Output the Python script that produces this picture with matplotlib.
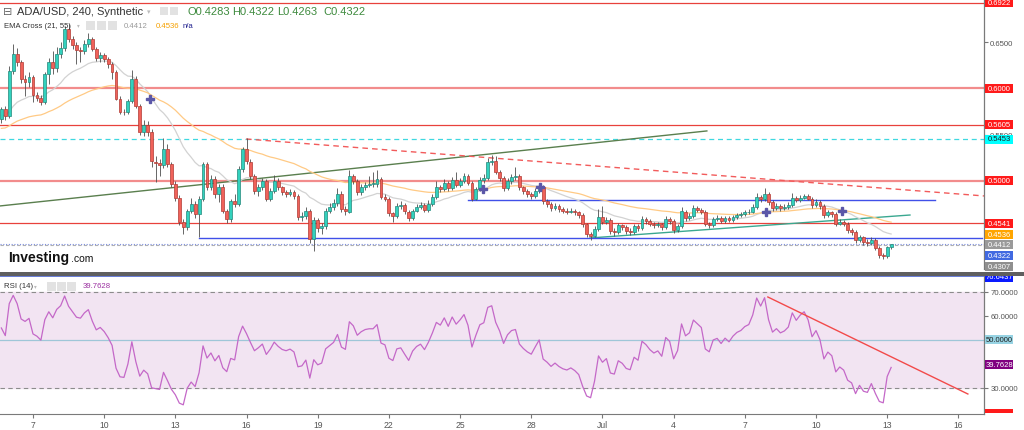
import datetime
import numpy as np
import pandas as pd
import matplotlib
matplotlib.use("Agg")
import matplotlib.pyplot as plt
import matplotlib.dates as mdates
from matplotlib.patches import Rectangle
from matplotlib.transforms import IdentityTransform

plt.rcParams['font.family'] = ['Liberation Sans', 'DejaVu Sans']

# ---- data: ADA/USD 240 min candles, 2022-06-05 16:00 .. 2022-07-13 04:00
first_time = '2022-06-05 16:00'
first_open = 0.567
closes = [
    .578, .570,                              # Jun 5
    .619, .637, .628, .610, .607, .612,      # Jun 6
    .593, .590, .585, .615, .629, .622,      # Jun 7
    .637, .644, .664, .653, .647, .641,      # Jun 8
    .640, .648, .653, .642, .633, .636,      # Jun 9
    .632, .626, .618, .589, .575, .574,      # Jun 10
    .586, .610, .581, .553, .560, .553,      # Jun 11
    .521, .519, .517, .535, .518, .497,      # Jun 12
    .482, .456, .450, .468, .475, .464,      # Jun 13
    .480, .518, .494, .502, .486, .494,      # Jun 14
    .468, .459, .478, .475, .513, .534,      # Jun 15
    .521, .505, .489, .494, .500, .481,      # Jun 16
    .489, .500, .493, .488, .486, .488,      # Jun 17
    .484, .461, .462, .468, .437, .458,      # Jun 18
    .449, .451, .468, .472, .476, .486,      # Jun 19
    .470, .467, .505, .500, .488, .493,      # Jun 20
    .496, .497, .497, .502, .483, .481,      # Jun 21
    .465, .462, .473, .474, .467, .460,      # Jun 22
    .468, .472, .474, .469, .475, .483,      # Jun 23
    .493, .491, .498, .492, .501, .496,      # Jun 24
    .500, .505, .498, .481, .491, .501,      # Jun 25
    .503, .520, .522, .510, .503, .492,      # Jun 26
    .500, .504, .505, .493, .489, .486,      # Jun 27
    .484, .489, .494, .478, .475, .471,      # Jun 28
    .473, .470, .468, .467, .468, .466,      # Jun 29
    .463, .453, .443, .441, .448, .461,      # Jun 30
    .456, .458, .446, .445, .452, .450,      # Jul 1
    .446, .445, .451, .449, .459, .457,      # Jul 2
    .454, .452, .453, .450, .459, .457,      # Jul 3
    .447, .451, .467, .460, .462, .471,      # Jul 4
    .469, .467, .454, .452, .459, .460,      # Jul 5
    .457, .460, .458, .461, .463, .464,      # Jul 6
    .466, .467, .472, .483, .480, .486,      # Jul 7
    .477, .471, .473, .471, .472, .474,      # Jul 8
    .482, .479, .482, .484, .481, .474,      # Jul 9
    .477, .473, .463, .466, .464, .454,      # Jul 10
    .456, .454, .447, .445, .436, .439,      # Jul 11
    .434, .433, .436, .428, .420, .4185,     # Jul 12
    .4283, .4322,                            # Jul 13
]
highs = [
    .580, .581,
    .624, .648, .644, .631, .614, .618,
    .614, .596, .593, .618, .633, .640,
    .645, .650, .667, .670, .657, .650,
    .645, .652, .660, .655, .645, .639,
    .638, .634, .628, .620, .592, .578,
    .588, .620, .613, .583, .566, .565,
    .556, .527, .524, .546, .540, .520,
    .500, .485, .459, .470, .482, .478,
    .484, .521, .520, .506, .505, .497,
    .497, .470, .481, .486, .516, .537,
    .546, .524, .508, .497, .503, .502,
    .492, .506, .503, .495, .490, .491,
    .490, .486, .466, .472, .470, .461,
    .460, .455, .471, .476, .480, .492,
    .489, .473, .512, .508, .502, .497,
    .499, .505, .510, .512, .504, .486,
    .483, .467, .476, .478, .476, .469,
    .470, .475, .477, .476, .479, .486,
    .500, .496, .502, .500, .504, .510,
    .503, .509, .507, .500, .494, .504,
    .507, .525, .528, .527, .512, .505,
    .503, .507, .515, .507, .495, .491,
    .488, .492, .498, .496, .480, .477,
    .476, .475, .472, .471, .471, .470,
    .468, .465, .455, .445, .451, .470,
    .473, .461, .460, .449, .455, .454,
    .452, .449, .454, .453, .462, .461,
    .459, .456, .456, .455, .462, .461,
    .459, .454, .472, .469, .465, .474,
    .473, .471, .469, .456, .461, .463,
    .462, .462, .462, .463, .465, .467,
    .469, .470, .475, .487, .485, .492,
    .488, .479, .476, .475, .475, .477,
    .487, .484, .485, .486, .486, .483,
    .480, .479, .475, .469, .468, .466,
    .459, .458, .456, .449, .447, .442,
    .441, .437, .439, .438, .430, .4225,
    .4300, .4322,
]
lows = [
    .563, .566,
    .568, .616, .624, .606, .592, .601,
    .585, .586, .582, .583, .605, .616,
    .618, .633, .640, .650, .643, .626,
    .628, .637, .645, .640, .630, .629,
    .628, .622, .610, .587, .572, .571,
    .572, .584, .579, .550, .549, .549,
    .515, .499, .505, .514, .515, .494,
    .478, .452, .443, .447, .465, .460,
    .439, .478, .490, .490, .482, .477,
    .465, .455, .456, .472, .473, .510,
    .518, .502, .486, .484, .490, .478,
    .478, .487, .490, .485, .483, .484,
    .481, .458, .457, .459, .433, .424,
    .445, .443, .448, .465, .469, .473,
    .467, .463, .465, .497, .485, .485,
    .490, .493, .493, .494, .480, .478,
    .462, .456, .460, .470, .464, .457,
    .458, .466, .470, .466, .467, .473,
    .481, .488, .489, .489, .490, .493,
    .494, .498, .496, .478, .479, .489,
    .498, .501, .517, .507, .500, .489,
    .490, .497, .501, .490, .486, .483,
    .481, .482, .487, .475, .472, .468,
    .469, .467, .465, .464, .465, .463,
    .460, .450, .440, .436, .439, .446,
    .453, .453, .443, .441, .443, .447,
    .443, .442, .443, .446, .447, .454,
    .451, .449, .450, .447, .448, .454,
    .444, .445, .449, .457, .458, .460,
    .466, .464, .451, .449, .450, .457,
    .455, .455, .456, .456, .459, .461,
    .462, .464, .465, .470, .477, .478,
    .474, .468, .469, .468, .469, .470,
    .472, .477, .477, .480, .479, .471,
    .472, .470, .460, .461, .461, .451,
    .452, .451, .444, .442, .433, .434,
    .431, .430, .431, .425, .417, .4155,
    .4170, .4263,
]
opens = [first_open] + closes[:-1]

# indicator seeds (values just before the first candle)
ema_periods = [21, 55]
ema_seeds = [0.570, 0.556]
rsi_period = 14
rsi_seed_gain, rsi_seed_loss = 0.0055, 0.0045

# chart levels / drawings (day of June 2022, price)
red_levels = [0.6922, 0.5605, 0.4541]
pink_levels = [0.6000, 0.5000]
cyan_level = 0.5453
price_line = 0.4322
prev_line = 0.4307
olive_trend = [(5.61, 0.4730), (35.40, 0.5540)]
teal_trend = [(30.47, 0.4384), (43.96, 0.4632)]
red_dash_trend = [(15.98, 0.5453), (47.08, 0.4838)]
blue_support = [(14.0, 0.4381), (47.0, 0.4381)]
blue_resist = [(25.33, 0.4794), (45.01, 0.4794)]
cross_days = [11.93, 25.96, 28.37, 37.89, 41.09]
cross_prices = [0.5885, 0.4913, 0.4935, 0.4665, 0.4676]
rsi_trend = [(37.97, 67.9), (46.40, 27.5)]
rsi_last = '39.7628'
ema_last = ['0.4412', '0.4536']
tick_days = [7, 10, 13, 16, 19, 22, 25, 28, 31, 34, 37, 40, 43, 46]
tick_labels = ['7', '10', '13', '16', '19', '22', '25', '28', 'Jul', '4', '7', '10', '13', '16']

W, H = 1024, 431
base = mdates.date2num(datetime.datetime(2022, 6, 1))
def d(day):
    return base + day - 1

times = pd.date_range(first_time, periods=len(closes), freq='4h')
x = mdates.date2num(times.to_pydatetime())
o = np.array(opens); c = np.array(closes)

def ema(vals, n, seed):
    a = 2.0 / (n + 1); e = seed; out = []
    for v in vals:
        e = e + a * (v - e)
        out.append(e)
    return np.array(out)

emas = [ema(closes, n, s) for n, s in zip(ema_periods, ema_seeds)]

g, l = rsi_seed_gain, rsi_seed_loss
rsi = [100 - 100 / (1 + g / l)]
for i in range(1, len(closes)):
    ch = closes[i] - closes[i - 1]
    g = (g * (rsi_period - 1) + max(ch, 0)) / rsi_period
    l = (l * (rsi_period - 1) + max(-ch, 0)) / rsi_period
    rsi.append(100 - 100 / (1 + g / l))

fig = plt.figure(figsize=(W / 100, H / 100), dpi=100)
ax = fig.add_axes([0, 1 - 270 / H, 984 / W, 270 / H])
rax = fig.add_axes([0, 1 - 415 / H, 984 / W, 138 / H])
xl = (d(5.61), d(47.08))
for a in (ax, rax):
    a.set_xlim(*xl)
    for s in a.spines.values():
        s.set_visible(False)
    a.spines['right'].set_visible(True)
    a.spines['right'].set_color('#7a7a7a')
    a.spines['right'].set_linewidth(0.9)
ax.set_ylim(0.4049, 0.6965)
rax.set_ylim(19.17, 76.64)

# ---- main panel
for lv in red_levels:
    ax.axhline(lv, color='#e8413c', lw=0.9, zorder=1)
for lv in pink_levels:
    ax.axhline(lv, color='#f28c8c', lw=1.6, zorder=1)
ax.axhline(cyan_level, color='#3fd8e0', lw=0.9, ls=(0, (4, 3)), zorder=1)
ax.axhline(prev_line, color='#b0b0b0', lw=0.8, ls=(0, (3, 2)), zorder=1)
ax.axhline(price_line, color='#7d8fe0', lw=0.8, ls=(0, (1, 1.5)), zorder=1)
for seg, col, ls in [(olive_trend, '#5a7f4e', '-'), (teal_trend, '#3aa890', '-'),
                     (red_dash_trend, '#f25b5b', (0, (4, 3))),
                     (blue_support, '#4050e8', '-'), (blue_resist, '#4050e8', '-')]:
    ax.plot([d(seg[0][0]), d(seg[1][0])], [seg[0][1], seg[1][1]], color=col, lw=1.0, ls=ls, zorder=2)

ax.plot(x, emas[0], color='#d2d2d2', lw=0.9, zorder=2)
ax.plot(x, emas[1], color='#ffca85', lw=0.9, zorder=2)

up = c >= o
ax.vlines(x, lows, highs, color='#4e4e4e', lw=0.6, zorder=3)
body = np.where(np.abs(c - o) < 0.0007, 0.0007, c - o)
ax.bar(x, body, bottom=o, width=0.12, zorder=4, linewidth=0.5,
       color=np.where(up, '#33d1bd', '#f0625a'),
       edgecolor=np.where(up, '#23877a', '#b03a32'))
ax.plot([d(v) for v in cross_days], cross_prices, ls='none', marker='P', ms=6,
        color='#5b57a8', mec='#5b57a8', zorder=5)

ax.set_xticks([])
ax.yaxis.tick_right()
ax.set_yticks([0.65, 0.55])
ax.set_yticklabels(['0.6500', '0.5500'])
ax.tick_params(axis='y', length=3, color='#777', labelsize=5.6, labelcolor='#555', pad=1.5)

# ---- RSI panel
rax.axhspan(30, 70, color='#f2e4f2', zorder=0)
for lv in (70, 30):
    rax.axhline(lv, color='#8c8c8c', lw=0.8, ls=(0, (4, 3)), zorder=1)
rax.axhline(50, color='#9fc6d8', lw=0.9, zorder=1)
rax.plot(x, rsi, color='#c468c8', lw=0.9, zorder=3)
rax.plot([d(rsi_trend[0][0]), d(rsi_trend[1][0])], [rsi_trend[0][1], rsi_trend[1][1]],
         color='#f24a4a', lw=1.0, zorder=3)
rax.spines['bottom'].set_visible(True)
rax.spines['bottom'].set_color('#7a7a7a')
rax.yaxis.tick_right()
rax.set_yticks([30, 60, 70])
rax.set_yticklabels(['30.0000', '60.0000', '70.0000'])
rax.tick_params(axis='y', length=3, color='#777', labelsize=5.6, labelcolor='#555', pad=1.5)
rax.set_xticks([d(v) for v in tick_days])
rax.set_xticklabels(tick_labels)
rax.tick_params(axis='x', length=3, color='#777', labelsize=6.2, labelcolor='#555', pad=1)

# ---- pixel helpers for tags and header
def px_rect(x0, y_top, w, h, color, z=5):
    fig.add_artist(Rectangle((x0, H - y_top - h), w, h, transform=IdentityTransform(),
                             facecolor=color, lw=0, zorder=z))

def px_text(x0, y, s, **kw):
    kw.setdefault('va', 'center')
    fig.text(x0 / W, 1 - y / H, s, **kw)

def tag(a, value, s, fc, tc, stack=0):
    yt = H - a.transData.transform((0, value))[1] + stack
    px_rect(985, yt - 4.5, 28, 9, fc, z=5)
    px_text(999, yt, s, ha='center', color=tc, fontsize=5.5, zorder=6)

tag(ax, 0.6922, '0.6922', '#ff1a1a', 'white')
tag(ax, 0.6000, '0.6000', '#ff1a1a', 'white')
tag(ax, 0.5605, '0.5605', '#ff1a1a', 'white')
tag(ax, cyan_level, '0.5453', '#00ffff', '#222')
tag(ax, 0.5000, '0.5000', '#ff1a1a', 'white')
tag(ax, 0.4541, '0.4541', '#ff1a1a', 'white')
tag(ax, 0.4541, ema_last[1], '#ffa500', 'white', stack=10.6)
tag(ax, 0.4541, ema_last[0], '#9a9a9a', 'white', stack=21.3)
tag(ax, 0.4541, f'{price_line:.4f}', '#4169e1', 'white', stack=32.0)
tag(ax, 0.4541, f'{prev_line:.4f}', '#8f8f8f', 'white', stack=42.7)
tag(rax, 76.64, '76.6437', '#0a1aff', 'white', stack=1)
tag(rax, 50, '50.0000', '#97d3e3', '#222')
tag(rax, float(rsi_last), rsi_last, '#800080', 'white')
px_rect(985, 410, 28, 4, '#ff1a1a', z=5)

# panel separator
px_rect(0, 273, W, 4, '#5f5f5f', z=8)
px_rect(0, 277, 984, 1, '#6b7fd8', z=8)

# header
px_text(3, 12, '⊟', fontsize=8, color='#666', family='DejaVu Sans')
px_text(17, 12, 'ADA/USD, 240, Synthetic', fontsize=8, color='#333')
px_text(147, 12, '▾', fontsize=5, color='#bbb', family='DejaVu Sans')
for xi in (160, 170):
    px_rect(xi, 8, 8, 8, '#e2e2e2', z=5)
for lab, xi in zip(['O0.4283', 'H0.4322', 'L0.4263', 'C0.4322'], [187, 232, 277, 323]):
    px_text(xi, 12, lab, fontsize=8, color='#3d8a3d')

px_text(4, 26, 'EMA Cross (21, 55)', fontsize=5.5, color='#333')
px_text(77, 26, '▾', fontsize=4, color='#bbb', family='DejaVu Sans')
for xi in (86, 97, 108):
    px_rect(xi, 22, 9, 9, '#e2e2e2', z=5)
px_text(124, 26, ema_last[0], fontsize=5.6, color='#9a9a9a')
px_text(156, 26, ema_last[1], fontsize=5.6, color='#f5a000')
px_text(183, 26, 'n/a', fontsize=5.6, color='#1c1c8c')

px_text(4, 287, 'RSI (14)', fontsize=5.6, color='#333')
px_text(34, 287, '▾', fontsize=4, color='#bbb', family='DejaVu Sans')
for xi in (47, 57, 67):
    px_rect(xi, 283, 9, 9, '#e2e2e2', z=5)
px_text(83, 287, rsi_last, fontsize=5.6, color='#9b30a0')

# logo
px_text(8, 258, 'Investing', fontsize=10, weight='bold', color='#111')
px_text(71, 259, '.com', fontsize=7.5, color='#111')

fig.savefig('out.png', dpi=100)
